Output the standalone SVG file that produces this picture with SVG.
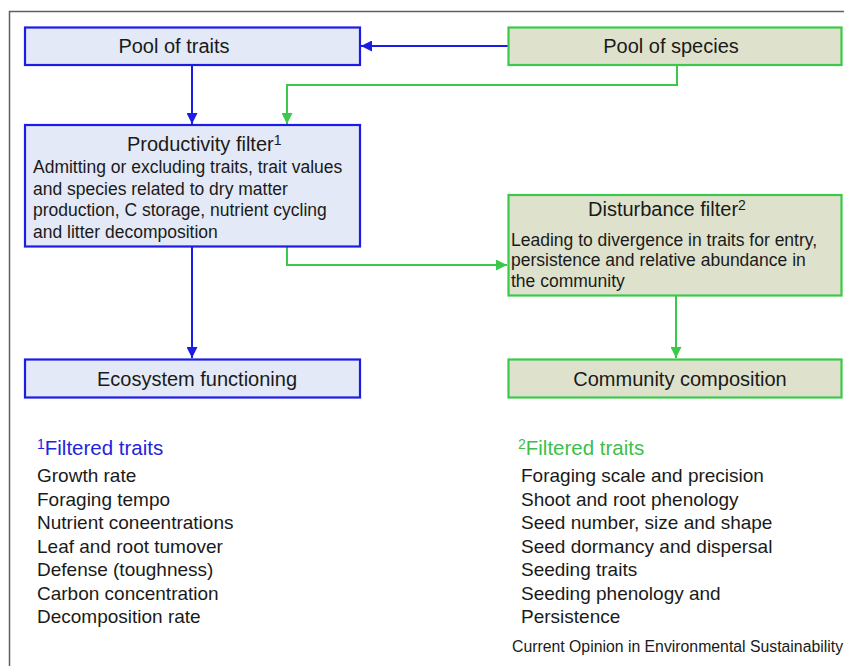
<svg xmlns="http://www.w3.org/2000/svg" width="844" height="666" viewBox="0 0 844 666">
<defs>
<style>
text{font-family:"Liberation Sans",Arial,sans-serif;fill:#1a1a1a}
.bbox{fill:#e3e9f6;stroke:#1c1ce6;stroke-width:2.2}
.gbox{fill:#dee2cc;stroke:#3cc84a;stroke-width:2.2}
.lbl{font-size:20px}
.body{font-size:17.5px}
.item{font-size:19px}
.sup{font-size:14px}
.bl{stroke:#1c1ce6;stroke-width:2;fill:none}
.gl{stroke:#3cc84a;stroke-width:2;fill:none}
</style>
<marker id="ab" viewBox="0 0 10 10" refX="10" refY="5" markerWidth="6" markerHeight="5.5" markerUnits="strokeWidth" orient="auto"><path d="M0,0 L10,5 L0,10 z" fill="#1c1ce6"/></marker>
<marker id="ag" viewBox="0 0 10 10" refX="10" refY="5" markerWidth="6" markerHeight="5.5" markerUnits="strokeWidth" orient="auto"><path d="M0,0 L10,5 L0,10 z" fill="#3cc84a"/></marker>
</defs>
<rect width="844" height="666" fill="#ffffff"/>
<path d="M9.5,666 L9.5,11.5 L844,11.5" fill="none" stroke="#5f5f5f" stroke-width="1.5"/>

<g id="connectors">
<path class="bl" d="M508,46 L361,46" marker-end="url(#ab)"/>
<path class="bl" d="M192,65 L192,124" marker-end="url(#ab)"/>
<path class="gl" d="M677,65 L677,85 L287,85 L287,124" marker-end="url(#ag)"/>
<path class="bl" d="M192,247 L192,358" marker-end="url(#ab)"/>
<path class="gl" d="M287,247 L287,265 L507,265" marker-end="url(#ag)"/>
<path class="gl" d="M676,296 L676,358" marker-end="url(#ag)"/>
</g>

<g id="pool-traits">
<rect class="bbox" x="25" y="27.5" width="335" height="37.5"/>
<text class="lbl" x="174" y="53" text-anchor="middle">Pool of traits</text>
</g>
<g id="pool-species">
<rect class="gbox" x="508.5" y="27.5" width="333" height="37.5"/>
<text class="lbl" x="671" y="53" text-anchor="middle">Pool of species</text>
</g>
<g id="productivity-filter">
<rect class="bbox" x="25" y="125" width="335" height="121.5"/>
<text class="lbl" x="127" y="151">Productivity filter<tspan class="sup" dy="-6">1</tspan></text>
<text class="body" x="33" y="173">Admitting or excluding traits, trait values</text>
<text class="body" x="33" y="194.5">and species related to dry matter</text>
<text class="body" x="33" y="216">production, C storage, nutrient cycling</text>
<text class="body" x="33" y="237.5">and litter decomposition</text>
</g>
<g id="disturbance-filter">
<rect class="gbox" x="508.5" y="195" width="333" height="100.5"/>
<text class="lbl" x="588" y="216">Disturbance filter<tspan class="sup" dy="-6">2</tspan></text>
<text class="body" x="511" y="245.5">Leading to divergence in traits for entry,</text>
<text class="body" x="511" y="266">persistence and relative abundance in</text>
<text class="body" x="511" y="286.5">the community</text>
</g>
<g id="ecosystem-functioning">
<rect class="bbox" x="25" y="359.5" width="335" height="38"/>
<text class="lbl" x="197" y="386" text-anchor="middle">Ecosystem functioning</text>
</g>
<g id="community-composition">
<rect class="gbox" x="508.5" y="359.5" width="333" height="38"/>
<text class="lbl" x="680" y="386" text-anchor="middle">Community composition</text>
</g>

<g id="footnote-1">
<text x="37" y="455" font-size="20.5" style="fill:#2424dc"><tspan class="sup" dy="-6">1</tspan><tspan dy="6">Filtered traits</tspan></text>
<text class="item" x="37" y="482">Growth rate</text>
<text class="item" x="37" y="505.5">Foraging tempo</text>
<text class="item" x="37" y="529">Nutrient coneentrations</text>
<text class="item" x="37" y="552.5">Leaf and root tumover</text>
<text class="item" x="37" y="576">Defense (toughness)</text>
<text class="item" x="37" y="599.5">Carbon concentration</text>
<text class="item" x="37" y="623">Decomposition rate</text>
</g>
<g id="footnote-2">
<text x="518" y="455" font-size="20.5" style="fill:#3cc04a"><tspan class="sup" dy="-6">2</tspan><tspan dy="6">Filtered traits</tspan></text>
<text class="item" x="521" y="482">Foraging scale and precision</text>
<text class="item" x="521" y="505.5">Shoot and root phenology</text>
<text class="item" x="521" y="529">Seed number, size and shape</text>
<text class="item" x="521" y="552.5">Seed dormancy and dispersal</text>
<text class="item" x="521" y="576">Seeding traits</text>
<text class="item" x="521" y="599.5">Seeding phenology and</text>
<text class="item" x="521" y="623">Persistence</text>
</g>
<text x="512" y="652" font-size="15.8">Current Opinion in Environmental Sustainability</text>
</svg>
